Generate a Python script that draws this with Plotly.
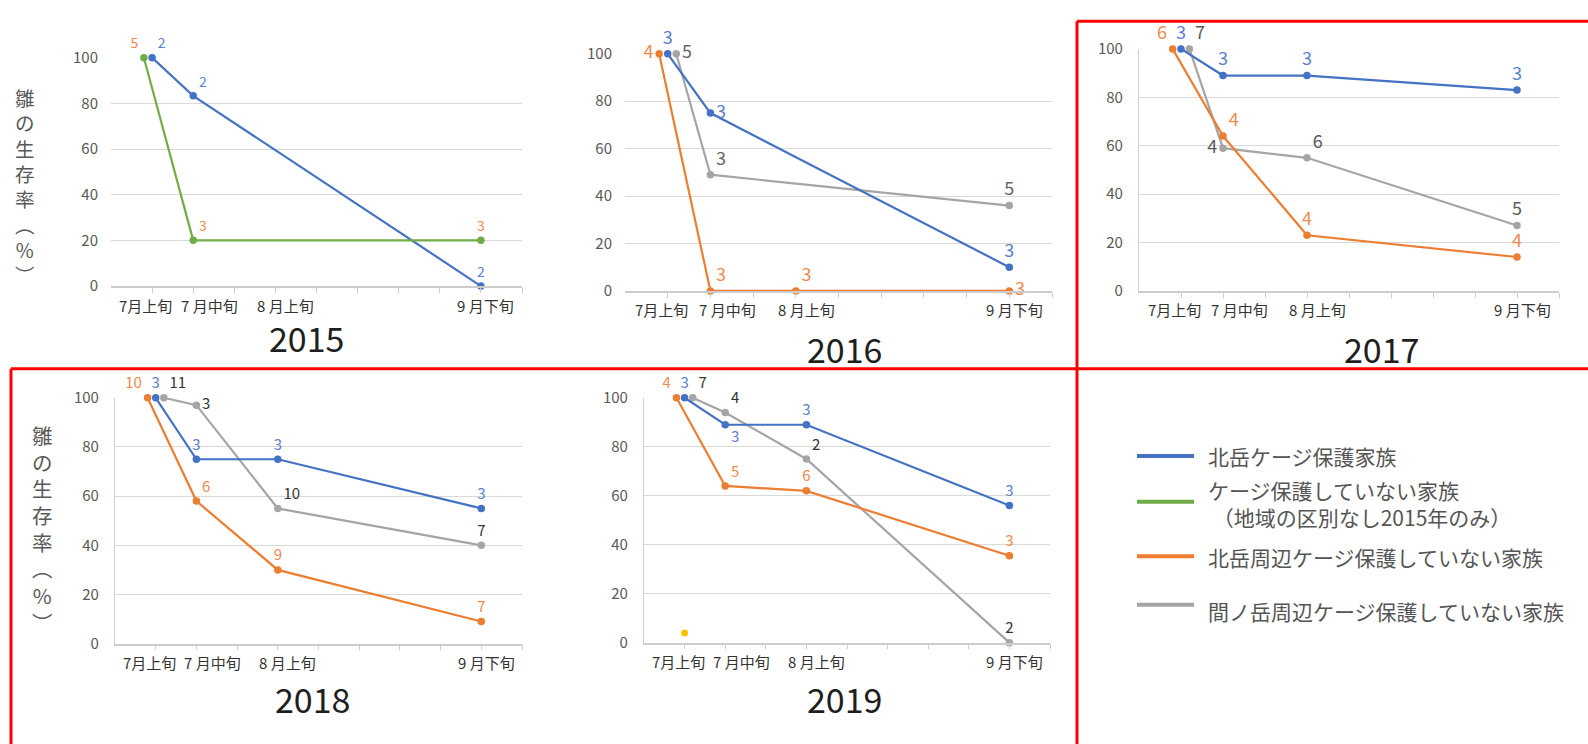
import plotly.graph_objects as go

W, H = 1588, 744

# ---- data -------------------------------------------------------------
CATEGORIES = ["7月上旬", "7 月中旬", "8 月上旬", "9 月下旬"]
CAT_X = [1, 2, 4, 9]          # where each period sits on the 0–10 season axis
YEARS = ["2015", "2016", "2017", "2018", "2019"]

SERIES_NAMES = [
    "北岳ケージ保護家族",
    "ケージ保護していない家族<br> （地域の区別なし2015年のみ）",
    "北岳周辺ケージ保護していない家族",
    "間ノ岳周辺ケージ保護していない家族",
]
Y_TITLE = "雛<br>の<br>生<br>存<br>率<br>︵<br>%<br>︶"

# survival rate (%) per period, and number of chicks labelled at each point
S2015_CAGED = [100, 83.3, None, 0]
N2015_CAGED = [2, 2, None, 2]
S2015_OPEN = [100, 20, None, 20]
N2015_OPEN = [5, 3, None, 3]

S2016_CAGED = [100, 75, None, 10]
N2016_CAGED = [3, 3, None, 3]
S2016_KITA = [100, 0, 0, 0]
N2016_KITA = [4, 3, 3, 3]
S2016_AINO = [100, 49, None, 36]
N2016_AINO = [5, 3, None, 5]

S2017_CAGED = [100, 89, 89, 83]
N2017_CAGED = [3, 3, 3, 3]
S2017_KITA = [100, 64, 23, 14]
N2017_KITA = [6, 4, 4, 4]
S2017_AINO = [100, 59, 55, 27]
N2017_AINO = [7, 4, 6, 5]

S2018_CAGED = [100, 75, 75, 55]
N2018_CAGED = [3, 3, 3, 3]
S2018_KITA = [100, 58, 30, 9]
N2018_KITA = [10, 6, 9, 7]
S2018_AINO = [100, 97, 55, 40]
N2018_AINO = [11, 3, 10, 7]

S2019_CAGED = [100, 89, 89, 56]
N2019_CAGED = [3, 3, 3, 3]
S2019_KITA = [100, 64, 62, 35.5]
N2019_KITA = [4, 5, 6, 3]
S2019_AINO = [100, 94, 75, 0]
N2019_AINO = [7, 4, 2, 2]

S2019_STRAY = [4]             # lone yellow point at 7月上旬

# ---- styles -----------------------------------------------------------
BLUE, GREEN, ORANGE, GRAY, YELLOW = "#4472C4", "#70AD47", "#ED7D31", "#A5A5A5", "#FFC000"
LBL_BLUE, LBL_ORANGE = "#5B80CC", "#EF8A4E"
STYLE = {
    "caged": dict(color=BLUE, nudge=0.0),
    "open": dict(color=GREEN, nudge=-0.2),
    "kita": dict(color=ORANGE, nudge=-0.2),
    "aino": dict(color=GRAY, nudge=0.2),
}
FONT = "Noto Sans CJK JP, Noto Sans, sans-serif"

# plot-area boxes in page pixels: left, right, top, bottom
BOXES = {
    "2015": (111, 522, 47, 282),
    "2016": (625, 1052, 43, 287),
    "2017": (1139, 1559, 38, 287),
    "2018": (115, 522, 397, 650),
    "2019": (644, 1050, 397, 649),
}
YEAR_TITLE_POS = {
    "2015": (306, 335), "2016": (844, 346), "2017": (1381, 346),
    "2018": (312, 706), "2019": (844, 706),
}
CAT_LABEL_X = [0.85, 2.4, 4.25, 9.12]
LABEL_SIZE = {"2015": 14, "2016": 18, "2017": 18, "2018": 15, "2019": 15}

T, TR, TL, MR, ML, BR = ("top center", "top right", "top left",
                         "middle right", "middle left", "bottom right")

PANELS = {
    "2015": [
        ("caged", S2015_CAGED, N2015_CAGED, LBL_BLUE, [TR, TR, None, T]),
        ("open", S2015_OPEN, N2015_OPEN, LBL_ORANGE, [TL, TR, None, T]),
    ],
    "2016": [
        ("kita", S2016_KITA, N2016_KITA, LBL_ORANGE, [ML, TR, TR, MR]),
        ("aino", S2016_AINO, N2016_AINO, "#666666", [MR, TR, None, T]),
        ("caged", S2016_CAGED, N2016_CAGED, LBL_BLUE, [T, MR, None, T]),
    ],
    "2017": [
        ("aino", S2017_AINO, N2017_AINO, "#595959", [TR, ML, TR, T]),
        ("kita", S2017_KITA, N2017_KITA, LBL_ORANGE, [TL, TR, T, T]),
        ("caged", S2017_CAGED, N2017_CAGED, LBL_BLUE, [T, T, T, T]),
    ],
    "2018": [
        ("aino", S2018_AINO, N2018_AINO, "#333333", [TR, MR, TR, T]),
        ("kita", S2018_KITA, N2018_KITA, LBL_ORANGE, [TL, TR, T, T]),
        ("caged", S2018_CAGED, N2018_CAGED, LBL_BLUE, [T, T, T, T]),
    ],
    "2019": [
        ("aino", S2019_AINO, N2019_AINO, "#333333", [TR, TR, TR, T]),
        ("kita", S2019_KITA, N2019_KITA, LBL_ORANGE, [TL, TR, T, T]),
        ("caged", S2019_CAGED, N2019_CAGED, LBL_BLUE, [T, BR, T, T]),
    ],
}


def px(x):
    return x / W


def py(y):
    return 1 - y / H


fig = go.Figure()
annotations, shapes = [], []

for i, year in enumerate(YEARS):
    n = "" if i == 0 else str(i + 1)
    xa, ya = "x" + n, "y" + n
    l, r, t, b = BOXES[year]
    show_yline = year in ("2017", "2018", "2019")
    fig.update_layout({
        "xaxis" + n: dict(
            domain=[px(l), px(r)], anchor=ya, range=[0, 10],
            showgrid=False, zeroline=False, showline=True,
            linecolor="#CCCCCC", linewidth=1.5,
            tickvals=list(range(1, 11)), ticks="outside", ticklen=5,
            tickcolor="#CCCCCC", showticklabels=False, fixedrange=True,
        ),
        "yaxis" + n: dict(
            domain=[py(b), py(t)], anchor=xa, range=[0, 100],
            tickvals=[0, 20, 40, 60, 80, 100], showgrid=True,
            gridcolor="#D9D9D9", gridwidth=1.2, zeroline=False,
            showline=show_yline, linecolor="#D0D0D0", linewidth=1.2,
            ticks="", ticklabelstandoff=12,
            tickfont=dict(family=FONT, size=15, color="#595959"),
            fixedrange=True,
        ),
    })

    for key, vals, counts, lcolor, pos in PANELS[year]:
        st = STYLE[key]
        xs, ys, txt, tp = [], [], [], []
        for j, (cx, v) in enumerate(zip(CAT_X, vals)):
            if v is None:
                continue
            xs.append(cx + (st["nudge"] if j == 0 else 0))
            ys.append(v)
            txt.append(str(counts[j]))
            tp.append(pos[j])
        fig.add_trace(go.Scatter(
            x=xs, y=ys, xaxis=xa, yaxis=ya, mode="lines+markers+text",
            line=dict(color=st["color"], width=2.2),
            marker=dict(color=st["color"], size=7.5),
            text=txt, textposition=tp,
            textfont=dict(family=FONT, size=LABEL_SIZE[year], color=lcolor),
            cliponaxis=False, showlegend=False, hoverinfo="skip",
        ))

    if year == "2019":
        fig.add_trace(go.Scatter(
            x=[CAT_X[0]], y=S2019_STRAY, xaxis=xa, yaxis=ya, mode="markers",
            marker=dict(color=YELLOW, size=7), cliponaxis=False,
            showlegend=False, hoverinfo="skip",
        ))

    # period labels under the axis
    for cx, cat in zip(CAT_LABEL_X, CATEGORIES):
        annotations.append(dict(
            x=cx, y=0, xref=xa, yref=ya, yshift=-19, text=cat,
            showarrow=False, xanchor="center", yanchor="middle",
            font=dict(family=FONT, size=15, color="#333333"),
        ))

    tx, ty = YEAR_TITLE_POS[year]
    annotations.append(dict(
        x=px(tx), y=py(ty), xref="paper", yref="paper", text=year,
        showarrow=False, xanchor="center", yanchor="middle",
        font=dict(family=FONT, size=34, color="#1E1E1E"),
    ))

# vertical y-axis titles: 雛の生存率（%）
for x0, top, size in [(25, 75, 19.5), (42, 422, 20.5)]:
    annotations.append(dict(
        x=px(x0), y=py(top - 4), xref="paper", yref="paper", text=Y_TITLE,
        showarrow=False, xanchor="center", yanchor="top", align="center",
        font=dict(family=FONT, size=size, color="#595959"),
    ))

# legend
LEGEND_COLORS = [BLUE, GREEN, ORANGE, GRAY]
LEGEND_ROWS = [(457, 457), (504, 506), (560, 561), (610, 616)]
for name, color, (line_y, text_y) in zip(SERIES_NAMES, LEGEND_COLORS, LEGEND_ROWS):
    shapes.append(dict(
        type="line", xref="paper", yref="paper",
        x0=px(1137), x1=px(1194), y0=py(line_y), y1=py(line_y),
        line=dict(color=color, width=4),
    ))
    annotations.append(dict(
        x=px(1206), y=py(text_y), xref="paper", yref="paper", text=name,
        showarrow=False, xanchor="left", yanchor="middle", align="left",
        font=dict(family=FONT, size=21, color="#555555"),
    ))

# red frames
RED = "#FF0000"
for x0, y0, x1, y1 in [
    (1077, 9.5, 1600, 9.5),      # top of 2017 box
    (1077, 9.5, 1077, 760),      # divider
    (11, 367, 1600, 367),        # top of lower row
    (11, 367, 11, 760),          # left of lower row
]:
    shapes.append(dict(
        type="line", xref="paper", yref="paper",
        x0=px(x0), x1=px(x1), y0=py(y0), y1=py(y1),
        line=dict(color=RED, width=3),
    ))

fig.update_layout(
    width=W, height=H, margin=dict(l=0, r=0, t=0, b=0),
    paper_bgcolor="white", plot_bgcolor="white",
    annotations=annotations, shapes=shapes, showlegend=False,
    font=dict(family=FONT),
)

fig.write_html("out.html", config={"displayModeBar": False})
